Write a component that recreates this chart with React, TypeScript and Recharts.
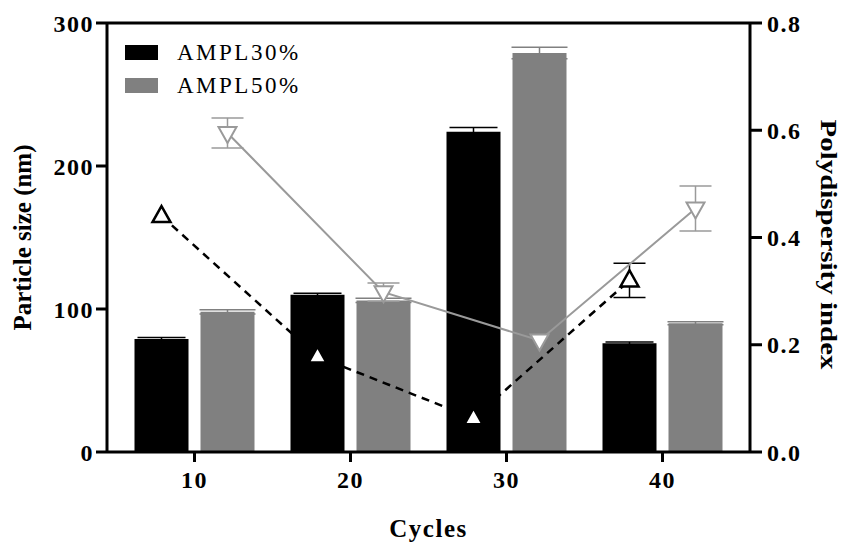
import React from "react"
import {
  Bar,
  ComposedChart,
  ErrorBar,
  Legend,
  Line,
  ReferenceLine,
  XAxis,
  YAxis,
} from "recharts"

// Cycles on the x axis
const cycles = ["10", "20", "30", "40"]

// Particle size (nm), left axis
const sizeAmpl30 = [79, 110, 224, 76]
const sizeAmpl30Err = [1, 1, 3, 1]
const sizeAmpl50 = [98, 106, 279, 90]
const sizeAmpl50Err = [1.5, 1.5, 4, 1]

// Polydispersity index, right axis (null = no error bar drawn)
const pdiAmpl30 = [0.44, 0.178, 0.063, 0.32]
const pdiAmpl30Err = [null, null, null, 0.032]
const pdiAmpl50 = [0.595, 0.298, 0.208, 0.454]
const pdiAmpl50Err = [0.028, 0.017, null, 0.042]

const sizeTicks = [0, 100, 200, 300]
const pdiTicks = [0, 0.2, 0.4, 0.6, 0.8]

const data = cycles.map((cycle, i) => ({
  cycle,
  i,
  size30: sizeAmpl30[i],
  size30Err: sizeAmpl30Err[i],
  size50: sizeAmpl50[i],
  size50Err: sizeAmpl50Err[i],
  pdi30: pdiAmpl30[i],
  pdi30Err: pdiAmpl30Err[i],
  pdi50: pdiAmpl50[i],
  pdi50Err: pdiAmpl50Err[i],
}))

const FONT = "'Liberation Serif', 'Times New Roman', serif"
const BAR_SIZE = 54
const BAR_GAP = 12
const BAND = 156
const AXIS_PAD = { left: 9.5, right: 9.5 }
// PDI markers sit over the middle of each bar of the pair
const SHIFT = (BAR_SIZE + BAR_GAP) / 2 / BAND

const tickStyle = { fill: "#000", fontFamily: FONT, fontWeight: 700, fontSize: 24, letterSpacing: 1.5 }
const axisStroke = { stroke: "#000", strokeWidth: 3 }

const TriangleUp = (props: any) => {
  const { cx, cy, index } = props
  if (cx == null || cy == null) return <g key={`u${index}`} />
  return (
    <path
      key={`u${index}`}
      d={`M${cx},${cy - 10} L${cx + 9},${cy + 6} L${cx - 9},${cy + 6} Z`}
      fill="#fff"
      stroke="#000"
      strokeWidth={2.5}
    />
  )
}

const TriangleDown = (props: any) => {
  const { cx, cy, index } = props
  if (cx == null || cy == null) return <g key={`d${index}`} />
  return (
    <path
      key={`d${index}`}
      d={`M${cx},${cy + 10} L${cx + 9},${cy - 6} L${cx - 9},${cy - 6} Z`}
      fill="#fff"
      stroke="#9a9a9a"
      strokeWidth={2}
    />
  )
}

// only the bar series go in the key
const LegendContent = (props: any) => {
  const items = (props.payload || []).filter((entry: any) => entry.type !== "none")
  return (
    <div style={{ fontFamily: FONT, fontSize: 23, letterSpacing: 2.5, color: "#000" }}>
      {items.map((entry: any) => (
        <div key={entry.value} style={{ display: "flex", alignItems: "center", height: 33 }}>
          <span style={{ width: 33, height: 15, background: entry.color, marginRight: 19 }} />
          <span>{entry.value}</span>
        </div>
      ))}
    </div>
  )
}

export default function App() {
  return (
    <div style={{ position: "absolute", left: 0, top: 0, background: "#fff" }}>
      <ComposedChart
        width={843}
        height={546}
        data={data}
        margin={{ top: 23, right: 0, bottom: 0, left: 0 }}
        barSize={BAR_SIZE}
        barGap={BAR_GAP}
        barCategoryGap={(BAND - 2 * BAR_SIZE - BAR_GAP) / 2}
      >
        <XAxis
          dataKey="cycle"
          height={94}
          padding={AXIS_PAD}
          axisLine={axisStroke}
          tickLine={axisStroke}
          tickSize={10}
          tickMargin={9}
          tick={tickStyle}
          label={{
            value: "Cycles",
            position: "insideBottom",
            offset: 9,
            style: { fill: "#000", fontFamily: FONT, fontWeight: 700, fontSize: 25, letterSpacing: 1.5 },
          }}
        />
        <XAxis
          xAxisId="pdi30"
          type="number"
          dataKey={(d: any) => d.i + 0.5 - SHIFT}
          domain={[0, 4]}
          padding={AXIS_PAD}
          allowDataOverflow
          hide
        />
        <XAxis
          xAxisId="pdi50"
          type="number"
          dataKey={(d: any) => d.i + 0.5 + SHIFT}
          domain={[0, 4]}
          padding={AXIS_PAD}
          allowDataOverflow
          hide
        />
        <YAxis
          yAxisId="left"
          width={107}
          domain={[0, 300]}
          ticks={sizeTicks}
          axisLine={axisStroke}
          tickLine={axisStroke}
          tickSize={11}
          tickMargin={2}
          tick={tickStyle}
          label={{
            content: ({ viewBox }: any) => (
              <text
                x={viewBox.x + 31}
                y={viewBox.y + viewBox.height / 2}
                transform={`rotate(-90, ${viewBox.x + 31}, ${viewBox.y + viewBox.height / 2})`}
                textAnchor="middle"
                fill="#000"
                fontFamily={FONT}
                fontWeight={700}
                fontSize={25}
              >
                Particle size (nm)
              </text>
            ),
          }}
        />
        <YAxis
          yAxisId="right"
          orientation="right"
          width={93}
          domain={[0, 0.8]}
          ticks={pdiTicks}
          tickFormatter={(v: number) => v.toFixed(1)}
          axisLine={axisStroke}
          tickLine={axisStroke}
          tickSize={12}
          tickMargin={5}
          tick={tickStyle}
          label={{
            content: ({ viewBox }: any) => (
              <text
                x={viewBox.x + 71}
                y={viewBox.y + viewBox.height / 2 + 7}
                transform={`rotate(90, ${viewBox.x + 71}, ${viewBox.y + viewBox.height / 2 + 7})`}
                textAnchor="middle"
                fill="#000"
                fontFamily={FONT}
                fontWeight={700}
                fontSize={23}
                textLength={250}
                lengthAdjust="spacingAndGlyphs"
              >
                Polydispersity index
              </text>
            ),
          }}
        />
        <ReferenceLine yAxisId="left" y={300} stroke="#000" strokeWidth={3} />
        <Legend
          layout="horizontal"
          align="center"
          verticalAlign="middle"
          wrapperStyle={{ left: 125, top: 36, width: 200, height: 70 }}
          content={<LegendContent />}
        />
        <Bar yAxisId="left" dataKey="size30" name="AMPL30%" fill="#000" isAnimationActive={false}>
          <ErrorBar dataKey="size30Err" width={24} stroke="#000" strokeWidth={1.5} />
        </Bar>
        <Bar yAxisId="left" dataKey="size50" name="AMPL50%" fill="#808080" isAnimationActive={false}>
          <ErrorBar dataKey="size50Err" width={28} stroke="#808080" strokeWidth={1.5} />
        </Bar>
        <Line
          xAxisId="pdi30"
          yAxisId="right"
          dataKey="pdi30"
          stroke="#000"
          strokeWidth={2.5}
          strokeDasharray="8 6"
          dot={TriangleUp}
          activeDot={false}
          legendType="none"
          isAnimationActive={false}
        >
          <ErrorBar dataKey="pdi30Err" width={16} stroke="#000" strokeWidth={1.5} direction="y" />
        </Line>
        <Line
          xAxisId="pdi50"
          yAxisId="right"
          dataKey="pdi50"
          stroke="#9a9a9a"
          strokeWidth={2}
          dot={TriangleDown}
          activeDot={false}
          legendType="none"
          isAnimationActive={false}
        >
          <ErrorBar dataKey="pdi50Err" width={16} stroke="#9a9a9a" strokeWidth={1.5} direction="y" />
        </Line>
      </ComposedChart>
    </div>
  )
}
